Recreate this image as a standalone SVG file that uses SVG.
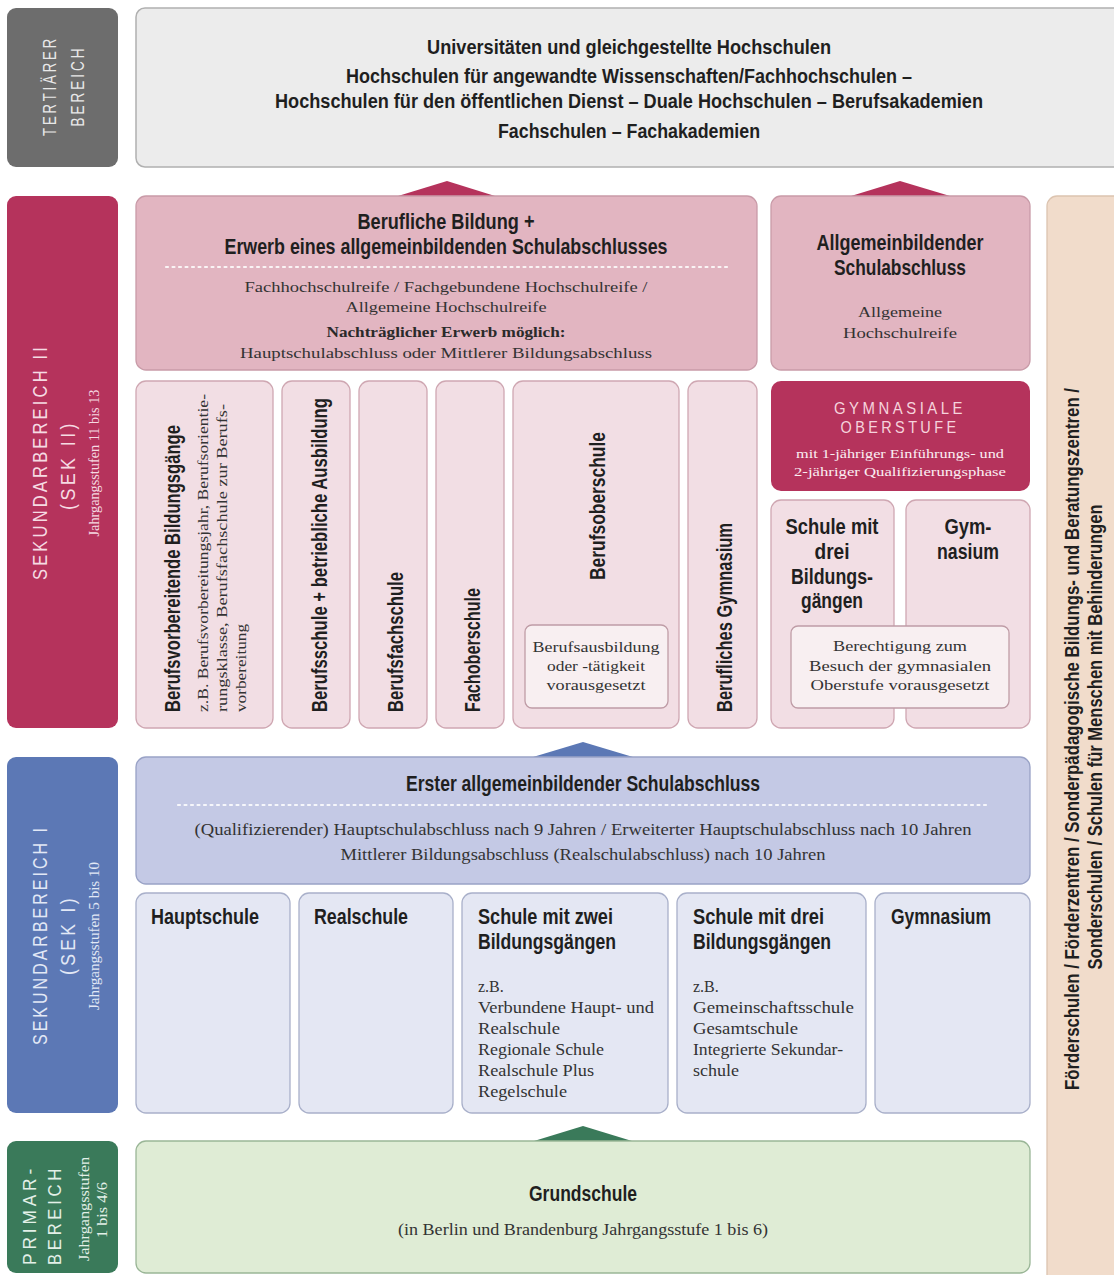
<svg xmlns="http://www.w3.org/2000/svg" width="1114" height="1275" viewBox="0 0 1114 1275">
<defs>
<style>
.t{font-family:"Liberation Sans",Arial,sans-serif;font-weight:bold;fill:#1f1f1f}
.s{font-family:"Liberation Serif","Times New Roman",serif;fill:#333}
.sb{font-family:"Liberation Serif","Times New Roman",serif;font-weight:bold;fill:#2a2a2a}
.lab{font-family:"Liberation Sans",Arial,sans-serif;letter-spacing:4px}
.c{text-anchor:middle}
.dot{stroke:#fff;stroke-width:2.2;stroke-dasharray:2 4.5;stroke-linecap:round;opacity:.85}
.pkTop{fill:#e2b5c1;stroke:#c99ba8;stroke-width:1.3}
.pkLow{fill:#f2dee4;stroke:#cfa7b2;stroke-width:1.3}
.pkIn{fill:#f8eff1;stroke:#bf9ca6;stroke-width:1.3}
.blTop{fill:#c4c9e5;stroke:#99a2c6;stroke-width:1.3}
.blLow{fill:#e4e7f3;stroke:#a9b0ca;stroke-width:1.3}
</style>
</defs>
<rect width="1114" height="1275" fill="#fff"/>

<g id="label-tertiaer">
<rect x="7" y="8" width="111" height="159" rx="9" fill="#6d6d6d"/>
<text class="lab c" font-size="18" fill="#e8e8e8" transform="translate(56,86) rotate(-90)" textLength="100" lengthAdjust="spacingAndGlyphs">TERTIÄRER</text>
<text class="lab c" font-size="18" fill="#e8e8e8" transform="translate(84,86) rotate(-90)" textLength="81" lengthAdjust="spacingAndGlyphs">BEREICH</text>
</g>

<g id="tertiaer">
<rect x="136" y="8" width="990" height="159" rx="9" fill="#ececec" stroke="#b0b0b0" stroke-width="1.5"/>
<text class="t c" font-size="20" x="629" y="54" textLength="404" lengthAdjust="spacingAndGlyphs">Universitäten und gleichgestellte Hochschulen</text>
<text class="t c" font-size="20" x="629" y="83" textLength="566" lengthAdjust="spacingAndGlyphs">Hochschulen für angewandte Wissenschaften/Fachhochschulen –</text>
<text class="t c" font-size="20" x="629" y="108" textLength="708" lengthAdjust="spacingAndGlyphs">Hochschulen für den öffentlichen Dienst – Duale Hochschulen – Berufsakademien</text>
<text class="t c" font-size="20" x="629" y="138" textLength="262" lengthAdjust="spacingAndGlyphs">Fachschulen – Fachakademien</text>
</g>

<g id="connectors">
<polygon points="398,196 447,181 495,196" fill="#b5335c"/>
<polygon points="851,196 900,181 950,196" fill="#b5335c"/>
<polygon points="533,757 583,742 633,757" fill="#5c78b5"/>
<polygon points="534,1141 583,1126 632,1141" fill="#3a7a5a"/>
</g>

<g id="label-sek2">
<rect x="7" y="196" width="111" height="532" rx="9" fill="#b5335c"/>
<text class="lab c" font-size="21" fill="#f6dbe3" transform="translate(47,462) rotate(-90)" textLength="236" lengthAdjust="spacingAndGlyphs">SEKUNDARBEREICH II</text>
<text class="lab c" font-size="21" fill="#f6dbe3" transform="translate(75,465) rotate(-90)" textLength="90" lengthAdjust="spacingAndGlyphs">(SEK II)</text>
<text class="s c" font-size="14" style="fill:#f6dbe3" transform="translate(99,463) rotate(-90)" textLength="147" lengthAdjust="spacingAndGlyphs">Jahrgangsstufen 11 bis 13</text>
</g>

<g id="berufliche-bildung">
<rect class="pkTop" x="136" y="196" width="621" height="174" rx="10"/>
<text class="t c" font-size="22" x="446" y="229" textLength="177" lengthAdjust="spacingAndGlyphs">Berufliche Bildung +</text>
<text class="t c" font-size="22" x="446" y="254" textLength="443" lengthAdjust="spacingAndGlyphs">Erwerb eines allgemeinbildenden Schulabschlusses</text>
<line class="dot" x1="166" y1="267" x2="728" y2="267"/>
<text class="s c" font-size="15.5" x="446" y="292" textLength="403" lengthAdjust="spacingAndGlyphs">Fachhochschulreife / Fachgebundene Hochschulreife /</text>
<text class="s c" font-size="15.5" x="446" y="312" textLength="201" lengthAdjust="spacingAndGlyphs">Allgemeine Hochschulreife</text>
<text class="sb c" font-size="15.5" x="446" y="337" textLength="239" lengthAdjust="spacingAndGlyphs">Nachträglicher Erwerb möglich:</text>
<text class="s c" font-size="15.5" x="446" y="358" textLength="412" lengthAdjust="spacingAndGlyphs">Hauptschulabschluss oder Mittlerer Bildungsabschluss</text>
</g>

<g id="allgemeinbildender-abschluss">
<rect class="pkTop" x="771" y="196" width="259" height="174" rx="10"/>
<text class="t c" font-size="22" x="900" y="250" textLength="167" lengthAdjust="spacingAndGlyphs">Allgemeinbildender</text>
<text class="t c" font-size="22" x="900" y="275" textLength="132" lengthAdjust="spacingAndGlyphs">Schulabschluss</text>
<text class="s c" font-size="15.5" x="900" y="317" textLength="84" lengthAdjust="spacingAndGlyphs">Allgemeine</text>
<text class="s c" font-size="15.5" x="900" y="338" textLength="114" lengthAdjust="spacingAndGlyphs">Hochschulreife</text>
</g>

<g id="berufsvorbereitende">
<rect class="pkLow" x="136" y="381" width="137" height="347" rx="10"/>
<text class="t" font-size="22" transform="translate(180,712) rotate(-90)" textLength="287" lengthAdjust="spacingAndGlyphs">Berufsvorbereitende Bildungsgänge</text>
<text class="s" font-size="14" transform="translate(208,712) rotate(-90)" textLength="318" lengthAdjust="spacingAndGlyphs">z.B. Berufsvorbereitungsjahr, Berufsorientie-</text>
<text class="s" font-size="14" transform="translate(227,712) rotate(-90)" textLength="308" lengthAdjust="spacingAndGlyphs">rungsklasse, Berufsfachschule zur Berufs-</text>
<text class="s" font-size="14" transform="translate(246,712) rotate(-90)" textLength="88" lengthAdjust="spacingAndGlyphs">vorbereitung</text>
</g>

<g id="berufsschule">
<rect class="pkLow" x="282" y="381" width="68" height="347" rx="10"/>
<text class="t" font-size="22" transform="translate(327,712) rotate(-90)" textLength="314" lengthAdjust="spacingAndGlyphs">Berufsschule + betriebliche Ausbildung</text>
</g>

<g id="berufsfachschule">
<rect class="pkLow" x="359" y="381" width="68" height="347" rx="10"/>
<text class="t" font-size="22" transform="translate(403,712) rotate(-90)" textLength="140" lengthAdjust="spacingAndGlyphs">Berufsfachschule</text>
</g>

<g id="fachoberschule">
<rect class="pkLow" x="436" y="381" width="68" height="347" rx="10"/>
<text class="t" font-size="22" transform="translate(480,712) rotate(-90)" textLength="124" lengthAdjust="spacingAndGlyphs">Fachoberschule</text>
</g>

<g id="berufsoberschule">
<rect class="pkLow" x="513" y="381" width="166" height="347" rx="10"/>
<text class="t" font-size="22" transform="translate(605,580) rotate(-90)" textLength="148" lengthAdjust="spacingAndGlyphs">Berufsoberschule</text>
<rect class="pkIn" x="525" y="625" width="143" height="83" rx="7"/>
<text class="s c" font-size="15.5" x="596" y="652" textLength="127" lengthAdjust="spacingAndGlyphs">Berufsausbildung</text>
<text class="s c" font-size="15.5" x="596" y="671" textLength="98" lengthAdjust="spacingAndGlyphs">oder -tätigkeit</text>
<text class="s c" font-size="15.5" x="596" y="690" textLength="99" lengthAdjust="spacingAndGlyphs">vorausgesetzt</text>
</g>

<g id="berufliches-gymnasium">
<rect class="pkLow" x="688" y="381" width="69" height="347" rx="10"/>
<text class="t" font-size="22" transform="translate(732,712) rotate(-90)" textLength="189" lengthAdjust="spacingAndGlyphs">Berufliches Gymnasium</text>
</g>

<g id="gymnasiale-oberstufe">
<rect x="771" y="381" width="259" height="110" rx="10" fill="#b5335c"/>
<text class="lab c" font-size="17" fill="#f6d3dd" x="900" y="414" textLength="132" lengthAdjust="spacingAndGlyphs">GYMNASIALE</text>
<text class="lab c" font-size="17" fill="#f6d3dd" x="900" y="433" textLength="119" lengthAdjust="spacingAndGlyphs">OBERSTUFE</text>
<text class="s c" font-size="13.5" style="fill:#fbeef2" x="900" y="458" textLength="208" lengthAdjust="spacingAndGlyphs">mit 1-jähriger Einführungs- und</text>
<text class="s c" font-size="13.5" style="fill:#fbeef2" x="900" y="476" textLength="212" lengthAdjust="spacingAndGlyphs">2-jähriger Qualifizierungsphase</text>
</g>

<g id="schule-drei-sek2">
<rect class="pkLow" x="771" y="500" width="123" height="228" rx="10"/>
<text class="t c" font-size="22" x="832" y="534" textLength="93" lengthAdjust="spacingAndGlyphs">Schule mit</text>
<text class="t c" font-size="22" x="832" y="559" textLength="35" lengthAdjust="spacingAndGlyphs">drei</text>
<text class="t c" font-size="22" x="832" y="584" textLength="82" lengthAdjust="spacingAndGlyphs">Bildungs-</text>
<text class="t c" font-size="22" x="832" y="608" textLength="62" lengthAdjust="spacingAndGlyphs">gängen</text>
</g>

<g id="gymnasium-sek2">
<rect class="pkLow" x="906" y="500" width="124" height="228" rx="10"/>
<text class="t c" font-size="22" x="968" y="534" textLength="47" lengthAdjust="spacingAndGlyphs">Gym-</text>
<text class="t c" font-size="22" x="968" y="559" textLength="62" lengthAdjust="spacingAndGlyphs">nasium</text>
</g>

<g id="berechtigung">
<rect class="pkIn" x="791" y="626" width="218" height="82" rx="7"/>
<text class="s c" font-size="15.5" x="900" y="651" textLength="134" lengthAdjust="spacingAndGlyphs">Berechtigung zum</text>
<text class="s c" font-size="15.5" x="900" y="671" textLength="182" lengthAdjust="spacingAndGlyphs">Besuch der gymnasialen</text>
<text class="s c" font-size="15.5" x="900" y="690" textLength="179" lengthAdjust="spacingAndGlyphs">Oberstufe vorausgesetzt</text>
</g>

<g id="foerderschulen">
<rect x="1047" y="196" width="80" height="1090" rx="10" fill="#f1dccb" stroke="#dcc4b0" stroke-width="1.3"/>
<text class="t c" font-size="21" transform="translate(1079,739) rotate(-90)" textLength="702" lengthAdjust="spacingAndGlyphs">Förderschulen / Förderzentren / Sonderpädagogische Bildungs- und Beratungszentren /</text>
<text class="t c" font-size="21" transform="translate(1102,737) rotate(-90)" textLength="465" lengthAdjust="spacingAndGlyphs">Sonderschulen / Schulen für Menschen mit Behinderungen</text>
</g>

<g id="label-sek1">
<rect x="7" y="757" width="111" height="356" rx="9" fill="#5c78b5"/>
<text class="lab c" font-size="21" fill="#e2e8f6" transform="translate(47,935) rotate(-90)" textLength="220" lengthAdjust="spacingAndGlyphs">SEKUNDARBEREICH I</text>
<text class="lab c" font-size="21" fill="#e2e8f6" transform="translate(75,935) rotate(-90)" textLength="80" lengthAdjust="spacingAndGlyphs">(SEK I)</text>
<text class="s c" font-size="14" style="fill:#e2e8f6" transform="translate(99,936) rotate(-90)" textLength="148" lengthAdjust="spacingAndGlyphs">Jahrgangsstufen 5 bis 10</text>
</g>

<g id="erster-abschluss">
<rect class="blTop" x="136" y="757" width="894" height="127" rx="10"/>
<text class="t c" font-size="22" x="583" y="791" textLength="354" lengthAdjust="spacingAndGlyphs">Erster allgemeinbildender Schulabschluss</text>
<line class="dot" x1="178" y1="805" x2="987" y2="805"/>
<text class="s c" font-size="16" x="583" y="835" textLength="777" lengthAdjust="spacingAndGlyphs">(Qualifizierender) Hauptschulabschluss nach 9 Jahren / Erweiterter Hauptschulabschluss nach 10 Jahren</text>
<text class="s c" font-size="16" x="583" y="860" textLength="485" lengthAdjust="spacingAndGlyphs">Mittlerer Bildungsabschluss (Realschulabschluss) nach 10 Jahren</text>
</g>

<g id="hauptschule">
<rect class="blLow" x="136" y="893" width="154" height="220" rx="10"/>
<text class="t" font-size="22" x="151" y="924" textLength="108" lengthAdjust="spacingAndGlyphs">Hauptschule</text>
</g>

<g id="realschule">
<rect class="blLow" x="299" y="893" width="154" height="220" rx="10"/>
<text class="t" font-size="22" x="314" y="924" textLength="94" lengthAdjust="spacingAndGlyphs">Realschule</text>
</g>

<g id="schule-zwei">
<rect class="blLow" x="462" y="893" width="206" height="220" rx="10"/>
<text class="t" font-size="22" x="478" y="924" textLength="135" lengthAdjust="spacingAndGlyphs">Schule mit zwei</text>
<text class="t" font-size="22" x="478" y="949" textLength="138" lengthAdjust="spacingAndGlyphs">Bildungsgängen</text>
<text class="s" font-size="16" x="478" y="992">z.B.</text>
<text class="s" font-size="16" x="478" y="1013" textLength="176" lengthAdjust="spacingAndGlyphs">Verbundene Haupt- und</text>
<text class="s" font-size="16" x="478" y="1034" textLength="82" lengthAdjust="spacingAndGlyphs">Realschule</text>
<text class="s" font-size="16" x="478" y="1055" textLength="126" lengthAdjust="spacingAndGlyphs">Regionale Schule</text>
<text class="s" font-size="16" x="478" y="1076" textLength="116" lengthAdjust="spacingAndGlyphs">Realschule Plus</text>
<text class="s" font-size="16" x="478" y="1097" textLength="89" lengthAdjust="spacingAndGlyphs">Regelschule</text>
</g>

<g id="schule-drei">
<rect class="blLow" x="677" y="893" width="189" height="220" rx="10"/>
<text class="t" font-size="22" x="693" y="924" textLength="131" lengthAdjust="spacingAndGlyphs">Schule mit drei</text>
<text class="t" font-size="22" x="693" y="949" textLength="138" lengthAdjust="spacingAndGlyphs">Bildungsgängen</text>
<text class="s" font-size="16" x="693" y="992">z.B.</text>
<text class="s" font-size="16" x="693" y="1013" textLength="161" lengthAdjust="spacingAndGlyphs">Gemeinschaftsschule</text>
<text class="s" font-size="16" x="693" y="1034" textLength="105" lengthAdjust="spacingAndGlyphs">Gesamtschule</text>
<text class="s" font-size="16" x="693" y="1055" textLength="150" lengthAdjust="spacingAndGlyphs">Integrierte Sekundar-</text>
<text class="s" font-size="16" x="693" y="1076" textLength="46" lengthAdjust="spacingAndGlyphs">schule</text>
</g>

<g id="gymnasium-sek1">
<rect class="blLow" x="875" y="893" width="155" height="220" rx="10"/>
<text class="t" font-size="22" x="891" y="924" textLength="100" lengthAdjust="spacingAndGlyphs">Gymnasium</text>
</g>

<g id="label-primar">
<rect x="7" y="1141" width="111" height="132" rx="9" fill="#3a7a5a"/>
<text class="lab c" font-size="18" fill="#e3f0e8" transform="translate(36,1215) rotate(-90)" textLength="100" lengthAdjust="spacingAndGlyphs">PRIMAR-</text>
<text class="lab c" font-size="18" fill="#e3f0e8" transform="translate(61,1215) rotate(-90)" textLength="100" lengthAdjust="spacingAndGlyphs">BEREICH</text>
<text class="s c" font-size="14" style="fill:#e3f0e8" transform="translate(89,1209) rotate(-90)" textLength="104" lengthAdjust="spacingAndGlyphs">Jahrgangsstufen</text>
<text class="s c" font-size="14" style="fill:#e3f0e8" transform="translate(107,1210) rotate(-90)" textLength="56" lengthAdjust="spacingAndGlyphs">1 bis 4/6</text>
</g>

<g id="grundschule">
<rect x="136" y="1141" width="894" height="132" rx="10" fill="#dfecd5" stroke="#9ab697" stroke-width="1.3"/>
<text class="t c" font-size="22" x="583" y="1201" textLength="108" lengthAdjust="spacingAndGlyphs">Grundschule</text>
<text class="s c" font-size="16" x="583" y="1235" textLength="370" lengthAdjust="spacingAndGlyphs">(in Berlin und Brandenburg Jahrgangsstufe 1 bis 6)</text>
</g>
</svg>
